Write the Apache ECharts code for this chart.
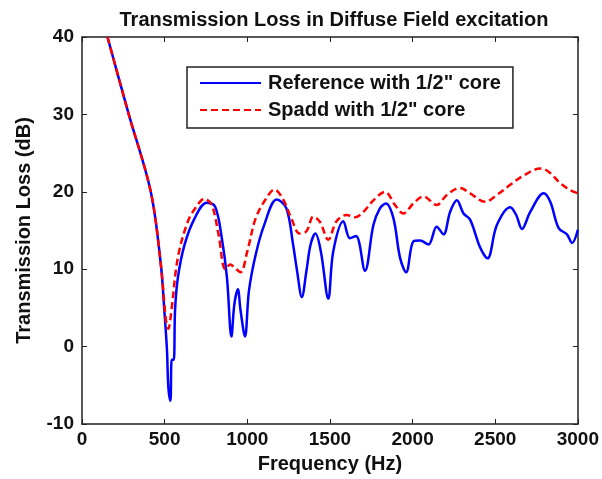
<!DOCTYPE html>
<html>
<head>
<meta charset="utf-8">
<script src="https://cdn.jsdelivr.net/npm/echarts@6/dist/echarts.min.js"></script>
<style>
  html, body { margin: 0; padding: 0; background: #fff; }
  #main { width: 602px; height: 479px; }
</style>
</head>
<body>
<div id="main"></div>
<script>
// values
var refFreq = [154, 283, 416, 477, 498, 514, 522, 535, 543, 555, 563, 580, 621, 682, 754, 805, 846, 877, 904, 922, 943, 959, 986, 1010, 1051, 1102, 1178, 1236, 1277, 1301, 1330, 1358, 1383, 1412, 1445, 1490, 1520, 1581, 1621, 1658, 1712, 1763, 1803, 1839, 1884, 1924, 1961, 2005, 2045, 2096, 2146, 2187, 2227, 2268, 2308, 2348, 2409, 2453, 2510, 2591, 2627, 2662, 2712, 2793, 2833, 2884, 2934, 2965, 3000];
var refTL = [40, 30, 20, 10.6, 4.7, -0.4, -5.1, -7.0, -1.7, -1.7, 4.7, 8.9, 13.2, 16.6, 18.6, 18.1, 14.0, 8.9, 1.3, 5.5, 7.4, 4.7, 1.3, 7.2, 11.9, 15.7, 19.0, 17.9, 13.2, 9.8, 6.4, 9.8, 13.2, 14.6, 12.3, 6.2, 12.3, 16.2, 14.0, 14.3, 9.8, 15.7, 17.9, 18.5, 16.6, 11.5, 9.6, 13.6, 13.7, 13.2, 15.5, 14.5, 17.4, 18.9, 17.2, 16.4, 12.8, 11.4, 15.7, 18.0, 17.0, 15.2, 17.4, 19.8, 18.7, 15.3, 14.5, 13.4, 15.1];

var spaddFreq = [154, 283, 416, 477, 508, 522, 539, 580, 641, 693, 740, 785, 826, 867, 897, 928, 959, 1000, 1051, 1113, 1164, 1215, 1266, 1317, 1358, 1400, 1440, 1490, 1540, 1601, 1652, 1702, 1763, 1833, 1894, 1944, 2005, 2066, 2146, 2207, 2288, 2348, 2439, 2510, 2591, 2672, 2773, 2823, 2894, 2955, 3000];
var spaddTL = [40, 30, 20, 10.6, 3.4, 2.3, 4.3, 11.5, 16.2, 18.1, 19.1, 18.3, 14.5, 10.0, 10.6, 10.1, 9.6, 12.3, 16.6, 19.1, 20.3, 19.1, 16.6, 14.6, 14.9, 16.8, 16.1, 13.8, 16.2, 17.0, 16.7, 17.4, 18.9, 20.0, 18.3, 17.2, 18.5, 19.4, 18.3, 19.6, 20.5, 19.8, 18.7, 19.6, 20.9, 22.1, 23.0, 22.6, 21.1, 20.2, 19.8];

var xTicks = [0, 500, 1000, 1500, 2000, 2500, 3000];
var yTicks = [-10, 0, 10, 20, 30, 40];

function pairs(xs, ys) {
    var out = [];
    for (var i = 0; i < xs.length; i++) {
        out.push([xs[i], ys[i]]);
    }
    return out;
}

var font = 'Liberation Sans, Arial, sans-serif';
var tickLabel = {color: '#111', fontFamily: font, fontWeight: 'bold', fontSize: 19};
var boxLine = {color: '#222', width: 1.5};

var chart = echarts.init(document.getElementById('main'), null, {renderer: 'canvas'});

var option = {
    backgroundColor: '#fff',
    animation: false,
    title: {
        text: 'Transmission Loss in Diffuse Field excitation',
        left: 329,
        textAlign: 'center',
        top: 5,
        textStyle: {color: '#111', fontFamily: font, fontWeight: 'bold', fontSize: 20}
    },
    legend: {
        left: 187,
        top: 67,
        orient: 'vertical',
        backgroundColor: '#fff',
        borderColor: '#222',
        borderWidth: 1.5,
        borderRadius: 0,
        padding: [6, 12, 8, 12],
        itemWidth: 61,
        itemHeight: 14,
        itemGap: 7,
        itemStyle: {opacity: 0},
        textStyle: {color: '#111', fontFamily: font, fontWeight: 'bold', fontSize: 20, padding: [0, 0, 0, 2]},
        data: ['Reference with 1/2" core', 'Spadd with 1/2" core']
    },
    grid: {left: 82, right: 24, top: 37, bottom: 51},
    xAxis: [{
        type: 'value',
        min: 0,
        max: 3000,
        interval: 500,
        name: 'Frequency (Hz)',
        nameLocation: 'middle',
        nameGap: 30,
        nameTextStyle: {color: '#111', fontFamily: font, fontWeight: 'bold', fontSize: 20},
        axisLine: {onZero: false, lineStyle: boxLine},
        axisTick: {inside: true, length: 5, lineStyle: {color: '#222'}},
        axisLabel: Object.assign({margin: 6, formatter: function (v) { return xTicks.indexOf(v) >= 0 ? v : ''; }}, tickLabel),
        splitLine: {show: false}
    }, {
        type: 'value',
        position: 'top',
        min: 0,
        max: 3000,
        interval: 500,
        axisLine: {show: true, onZero: false, lineStyle: boxLine},
        axisTick: {show: true, inside: true, length: 5, lineStyle: {color: '#222'}},
        axisLabel: {show: false},
        splitLine: {show: false}
    }],
    yAxis: [{
        type: 'value',
        min: -10,
        max: 40,
        interval: 10,
        name: 'Transmission Loss (dB)',
        nameLocation: 'middle',
        nameGap: 48,
        nameTextStyle: {color: '#111', fontFamily: font, fontWeight: 'bold', fontSize: 20},
        axisLine: {onZero: false, lineStyle: boxLine},
        axisTick: {inside: true, length: 5, lineStyle: {color: '#222'}},
        axisLabel: Object.assign({margin: 8, formatter: function (v) { return yTicks.indexOf(v) >= 0 ? v : ''; }}, tickLabel),
        splitLine: {show: false}
    }, {
        type: 'value',
        position: 'right',
        min: -10,
        max: 40,
        interval: 10,
        axisLine: {show: true, onZero: false, lineStyle: boxLine},
        axisTick: {show: true, inside: true, length: 5, lineStyle: {color: '#222'}},
        axisLabel: {show: false},
        splitLine: {show: false}
    }],
    series: [
        {
            name: 'Reference with 1/2" core',
            type: 'line',
            symbol: 'none',
            smooth: 0.35,
            color: '#0000ff',
            lineStyle: {color: '#0000ff', width: 2.5},
            data: pairs(refFreq, refTL),
            z: 3
        },
        {
            name: 'Spadd with 1/2" core',
            type: 'line',
            symbol: 'none',
            smooth: 0.35,
            color: '#ff0000',
            lineStyle: {color: '#ff0000', width: 2.5, type: [7, 4]},
            data: pairs(spaddFreq, spaddTL),
            z: 4
        }
    ]
};

chart.setOption(option);
</script>
</body>
</html>
